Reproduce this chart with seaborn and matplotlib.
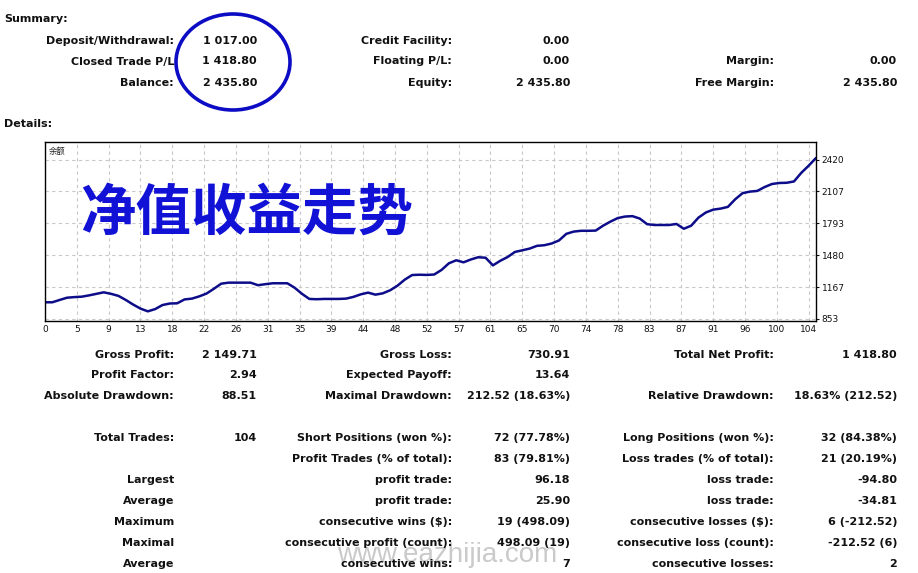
import numpy as np
import pandas as pd
import matplotlib.pyplot as plt
import seaborn as sns
from matplotlib.patches import Ellipse

# balance curve (one value per trade index)
balance = [1017, 1017, 1040, 1062, 1068, 1072, 1085, 1100, 1115, 1100,
           1080, 1040, 995, 955, 928, 950, 990, 1005, 1007, 1045,
           1053, 1075, 1103, 1150, 1200, 1210, 1210, 1210, 1210, 1185,
           1195, 1204, 1204, 1204, 1160, 1100, 1050, 1047, 1050, 1050,
           1050, 1053, 1070, 1095, 1112, 1092, 1105, 1135, 1180, 1240,
           1285, 1288, 1286, 1290, 1335, 1400, 1430, 1410, 1438, 1460,
           1455, 1380, 1425, 1462, 1512, 1528, 1545, 1572, 1578, 1595,
           1625, 1690, 1712, 1720, 1720, 1722, 1770, 1810, 1845, 1860,
           1864, 1840, 1785, 1777, 1777, 1777, 1787, 1740, 1770, 1850,
           1900, 1928, 1938, 1955, 2030, 2090, 2105, 2112, 2150, 2180,
           2190, 2192, 2205, 2290, 2360, 2436]
y_ticks = [853, 1167, 1480, 1793, 2107, 2420]
x_tick_labels = [0, 5, 9, 13, 18, 22, 26, 31, 35, 39, 44, 48, 52, 57, 61,
                 65, 70, 74, 78, 83, 87, 91, 96, 100, 104]
chart_title = '净值收益走势'
chart_label = '余额'
watermark = 'www.eazhijia.com'

summary_labels_1 = ['Deposit/Withdrawal:', 'Closed Trade P/L', 'Balance:']
summary_values_1 = ['1 017.00', '1 418.80', '2 435.80']
summary_labels_2 = ['Credit Facility:', 'Floating P/L:', 'Equity:']
summary_values_2 = ['0.00', '0.00', '2 435.80']
summary_labels_3 = ['', 'Margin:', 'Free Margin:']
summary_values_3 = ['', '0.00', '2 435.80']

det_labels_1 = ['Gross Profit:', 'Profit Factor:', 'Absolute Drawdown:', '', 'Total Trades:', '',
                'Largest', 'Average', 'Maximum', 'Maximal', 'Average']
det_values_1 = ['2 149.71', '2.94', '88.51', '', '104', '', '', '', '', '', '']
det_labels_2 = ['Gross Loss:', 'Expected Payoff:', 'Maximal Drawdown:', '', 'Short Positions (won %):',
                'Profit Trades (% of total):', 'profit trade:', 'profit trade:', 'consecutive wins ($):',
                'consecutive profit (count):', 'consecutive wins:']
det_values_2 = ['730.91', '13.64', '212.52 (18.63%)', '', '72 (77.78%)', '83 (79.81%)', '96.18',
                '25.90', '19 (498.09)', '498.09 (19)', '7']
det_labels_3 = ['Total Net Profit:', '', 'Relative Drawdown:', '', 'Long Positions (won %):',
                'Loss trades (% of total):', 'loss trade:', 'loss trade:', 'consecutive losses ($):',
                'consecutive loss (count):', 'consecutive losses:']
det_values_3 = ['1 418.80', '', '18.63% (212.52)', '', '32 (84.38%)', '21 (20.19%)', '-94.80',
                '-34.81', '6 (-212.52)', '-212.52 (6)', '2']

W, H = 918, 573
sns.set_style('white')
plt.rcParams['font.family'] = ['DejaVu Sans', 'Noto Sans CJK SC']

fig = plt.figure(figsize=(W / 100, H / 100), dpi=100)


def fx(px):
    return px / W


def fy(py):
    return 1 - py / H


# watermark first so the table text sits on top of it
fig.text(fx(447), fy(555), watermark, ha='center', va='center', fontsize=20,
         family='Liberation Sans', color='#cacaca')

txt = dict(fontsize=8, fontweight='bold', color='#111111', va='center')

fig.text(fx(4), fy(19), 'Summary:', ha='left', **txt)
fig.text(fx(4), fy(124), 'Details:', ha='left', **txt)

summary_y = [41, 61.5, 82.5]
cols = [(174, 257, summary_labels_1, summary_values_1),
        (452, 570, summary_labels_2, summary_values_2),
        (774, 897, summary_labels_3, summary_values_3)]
for lx, vx, labels, values in cols:
    for y, lab, val in zip(summary_y, labels, values):
        fig.text(fx(lx), fy(y), lab, ha='right', **txt)
        fig.text(fx(vx), fy(y), val, ha='right', **txt)

det_y = [354.5 + 20.95 * k for k in range(11)]
cols = [(174, 257, det_labels_1, det_values_1),
        (452, 570, det_labels_2, det_values_2),
        (774, 897, det_labels_3, det_values_3)]
for lx, vx, labels, values in cols:
    for y, lab, val in zip(det_y, labels, values):
        fig.text(fx(lx), fy(y), lab, ha='right', **txt)
        fig.text(fx(vx), fy(y), val, ha='right', **txt)

# circle around the summary values
fig.add_artist(Ellipse((fx(233), fy(62)), 114 / W, 96 / H, transform=fig.transFigure,
                       fill=False, edgecolor='#0c0cc4', linewidth=2.6))

# balance chart
ax = fig.add_axes([fx(45), fy(321), (816 - 45) / W, (321 - 142) / H])
df = pd.DataFrame({'trade': np.arange(len(balance)), 'balance': balance})
sns.lineplot(data=df, x='trade', y='balance', color='#0d0d8a', linewidth=1.8, ax=ax)
ax.set_xlim(0, len(balance) - 1)
ax.set_ylim(833, 2593)
ax.set_xticks([k * 104 / 24 for k in range(len(x_tick_labels))])
ax.set_xticklabels([str(v) for v in x_tick_labels])
ax.set_yticks(y_ticks)
ax.set_yticklabels([str(v) for v in y_ticks])
ax.yaxis.tick_right()
ax.tick_params(axis='x', length=0, pad=3, labelsize=6.5, colors='#111111')
ax.tick_params(axis='y', length=2, pad=2, labelsize=6.5, colors='#111111')
ax.set_xlabel('')
ax.set_ylabel('')
ax.grid(True, color='#c8c8c8', linestyle=(0, (3, 3)), linewidth=0.8)
ax.set_axisbelow(True)
for s in ax.spines.values():
    s.set_color('black')
    s.set_linewidth(1)

ax.text(0.005, 0.97, chart_label, transform=ax.transAxes, ha='left', va='top',
        fontsize=6, family=['Noto Sans CJK SC', 'DejaVu Sans'], color='#222222')
fig.text(fx(247), fy(214), chart_title, ha='center', va='center', fontsize=40,
         fontweight='bold', family=['Noto Sans CJK SC', 'DejaVu Sans'], color='#1212d6')

fig.savefig('out.png', dpi=100, facecolor='white')
